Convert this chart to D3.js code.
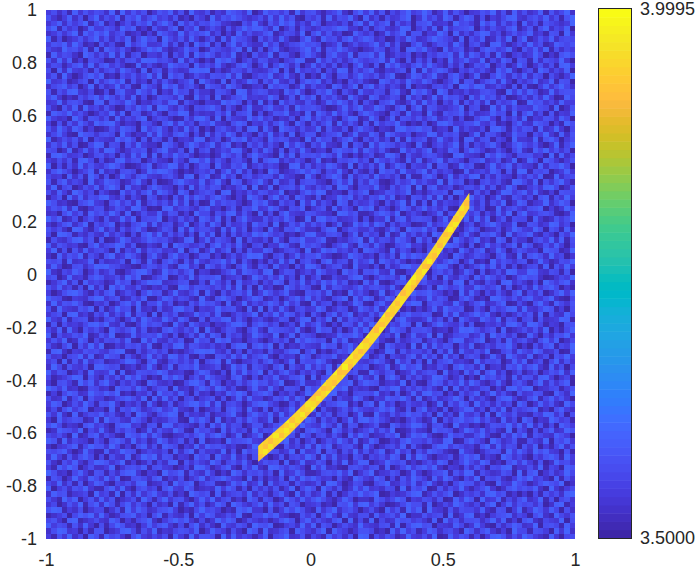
<!DOCTYPE html>
<html>
<head>
<meta charset="utf-8">
<script src="https://cdn.jsdelivr.net/npm/d3@7"></script>
<style>
html,body{margin:0;padding:0;background:#fff}
svg{display:block}
text{font-family:"Liberation Sans",Arial,sans-serif;font-size:18px;fill:#262626}
</style>
</head>
<body>
<svg id="chart" width="699" height="572"></svg>
<script>
const xTicks = [-1, -0.5, 0, 0.5, 1];
const xLabels = ["-1", "-0.5", "0", "0.5", "1"];
const yTicks = [-1, -0.8, -0.6, -0.4, -0.2, 0, 0.2, 0.4, 0.6, 0.8, 1];
const yLabels = ["-1", "-0.8", "-0.6", "-0.4", "-0.2", "0", "0.2", "0.4", "0.6", "0.8", "1"];
const colorbarTicks = [3.5, 3.9995];
const colorbarLabels = ["3.5000", "3.9995"];

const parula = [[.2422,.1504,.6603],[.2504,.165,.7076],[.2578,.1818,.7511],[.2647,.1978,.7952],[.2706,.2147,.8364],[.2751,.2342,.871],[.2783,.2559,.8991],[.2803,.2782,.9221],[.2813,.3006,.9414],[.281,.3228,.9579],[.2795,.3447,.9717],[.276,.3667,.9829],[.2699,.3892,.9906],[.2602,.4123,.9952],[.244,.4358,.9988],[.2206,.4603,.9973],[.1963,.4847,.9892],[.1834,.5074,.9798],[.1786,.5289,.9682],[.1764,.5499,.952],[.1687,.5703,.9359],[.154,.5902,.9218],[.146,.6091,.9079],[.138,.6276,.8973],[.1248,.6459,.8883],[.1113,.6635,.8763],[.0952,.6798,.8598],[.0689,.6948,.8394],[.0297,.7082,.8163],[.0036,.7203,.7917],[.0067,.7312,.766],[.0433,.7411,.7394],[.0964,.75,.712],[.1408,.7584,.6842],[.1717,.767,.6554],[.1938,.7758,.6251],[.2161,.7843,.5923],[.247,.7918,.5567],[.2906,.7973,.5188],[.3406,.8008,.4789],[.3909,.8029,.4354],[.4456,.8024,.3909],[.5044,.7993,.348],[.5616,.7942,.3045],[.6174,.7876,.2612],[.672,.7793,.2227],[.7242,.7698,.191],[.7738,.7598,.1646],[.8203,.7498,.1535],[.8634,.7406,.1596],[.9035,.733,.1774],[.9393,.7288,.21],[.9728,.7298,.2394],[.9956,.7434,.2371],[.997,.7659,.2199],[.9952,.7893,.2028],[.9892,.8136,.1885],[.9786,.8386,.1766],[.9676,.8639,.1643],[.961,.889,.1537],[.9597,.9135,.1423],[.9628,.9373,.1265],[.9691,.9606,.1064],[.9769,.9839,.0805]];

// Band edges (data units)
const bandX = [-0.198, -0.04, 0.149, 0.263, 0.425, 0.505, 0.6];
const bandUpper = [-0.648, -0.505, -0.304, -0.167, 0.048, 0.164, 0.308];
const bandLower = [-0.708, -0.565, -0.364, -0.227, -0.012, 0.104, 0.25];

// Per-column levels inside the band (estimated), first column index 40
const bandFirstColumn = 40;
const bandLevels = ["27451","63185","40726","85263","17404","62938","35172","74605","28361","51847","93026","46172","70538","32864","18495","67203","45916","83027","26754","51480","79263","34618","06572","82941","47135","63280","15794","72406","38652","94127","50763","27418","63905","41286","78530","26147","59373","83062","14726","60348","37251"];

// Background levels 0-9, hand-estimated cell by cell (texture only)
const noiseRows = [
"4625183746 5281937460 3758261943 6142875390 2856471936 7314582069 4827153694 5961382740 3475926183 6248173592",
"7314826059 2648175936 8452713064 1937586424 6283947105 4718265930 8251634790 3846297158 7160425893 2574836179",
"3582746915 8140362759 2695184736 5873210649 3174968252 8603425179 2946817350 6782341956 4195827360 8361754249",
"6917350284 4752968130 7326805491 3641725968 8529036174 2465798331 6157324980 4728193567 8052643791 3716925480",
"2473691858 6935712404 1864293757 9250418363 4781365290 6937240185 3502846917 7143960825 2698351474 5824176093",
"8150247369 3726481595 6095372841 4718296530 7362841059 3185627946 8724015396 2369754180 6481273905 9137482565",
"4768395120 7251094683 3482716095 8160593742 2947135686 7502481363 4693827105 8314762950 5720894136 3946128757",
"5329674818 1864730259 7931248560 2754368191 6058213479 4817596320 2375146089 6942083571 3168745920 7483916254",
"1846520973 6392815704 4270638195 8625491307 3491762058 5206843917 7839125460 3154768292 8627193045 2495031786",
"7293814065 4015267398 8564192730 3197850462 7623045981 1947362585 4568293071 6270419358 4391528607 6182754930",
"3651478292 7846301925 2139756084 6483127950 4815962703 8362714059 3170958426 8495316270 2758046139 5037261894",
"6082943517 2573964180 5716423898 9041265373 2368071945 4705298163 6821435709 1936872054 7463185920 4619725380",
"4719302685 8120647359 3908571264 2765938104 6592483170 3184067259 5472691038 7359216840 3810596274 8275063149",
"9346125708 3685917240 6273145809 5318062497 1749326058 7925130646 2108746395 4862035917 6147829305 3592481760",
"2578460391 6249371085 4196825730 8652974013 4085761392 6341872590 7936254180 3215647098 5982364170 7104836952",
"7164893250 1507832964 8042956173 3176409825 7623185940 2759406318 4365178209 6840971325 2367510948 4851293676",
"5830216479 4963728150 2765381094 6081257934 3496027185 8064731952 1872465093 5139286740 8495726013 6273940185",
"3492675108 8175496032 5638917420 4329786051 9150846327 4138596270 6305792148 2946053817 3728164590 1967352844",
"6207381945 2730164859 1984273065 7851630492 2684371956 7520148369 3497216805 8176324590 5601938274 4386519027",
"1875946302 5492807613 7306598142 3274915680 5037692418 1863947205 8642075193 4093175682 7234856091 6925071438",
"8423095176 3618254790 4652017389 6180743295 8451326079 3746205981 2950381764 7368246150 1589407362 9143762850",
"4061738529 7894132065 2079384516 5932168704 3726940851 6258193740 7184659302 1502897346 6943712058 3287504196",
"7395286140 1263875094 6841529370 3057426189 1840975263 4917326058 5403218967 8671340925 3250896174 7618249305",
"2584109763 6750941328 3942786051 8274961530 6392518047 7035681492 2861974350 3498265710 4917630285 5064931827",
"9136472805 4329685071 7516034298 1460387925 4185762309 2856147930 6372508194 5713942608 8267154093 3291785046",
"3748260159 8165073942 2087415963 5926813074 7263094851 6493218075 1948763520 8204635917 1536840279 6472039158",
"6502914837 2984136570 4793260815 7135498206 2851706394 1340786592 8537201946 3691428705 9741263058 2185947360",
"1897345026 7350628491 8164957302 3028647159 5420938176 7586392041 4612985073 2576310894 3208597416 6734091825",
"4263718950 5128946703 6320741895 9274156308 1789253640 3912065784 6095473182 8146927530 5682471390 2950863147",
"8051629374 3697401258 1459826037 6083275914 6354018927 2548731906 3729148605 4380761295 7104935826 4318276950",
"2796403581 8241675039 7986302145 4715938260 3097124685 8615493072 1508672943 6927354018 2453860719 9165702483",
"5340827196 1603952784 3257418906 8129460573 5762843109 4036971825 7294536081 1785039264 8916274305 3748019256",
"7168354092 4875126930 6012795438 2593087146 9418236057 7320584916 3861027459 4632918570 3057462198 5280637941",
"3915702648 2796083415 8643051927 4761325809 1280567394 2647198305 5492173680 9078245136 6482713950 1463895027",
"6284197350 5310847269 2974186035 7508914263 7634902158 5981320746 8023764591 3146570982 1725039846 8392140765",
"1470938265 8942615307 5130729486 3685204197 4059371862 1703496825 2659481307 6382917054 9460382175 2507816394",
"8623105794 3068472915 7462938150 1947563028 6821745093 9264087153 4730625918 1708254369 5271649038 7134925860",
"4759281036 6137529840 1089356427 8230471659 3497216580 3571826409 7915304862 5946371082 8360192574 2678041395",
"2306947185 7495180263 3827614095 5164892730 8150694327 6432098571 1268749035 3024816597 4715283906 9346751028",
"9581260473 1723948056 6904273518 7381605942 2736485019 1895723460 5043917826 7650492138 2938047165 5083127469",
"3147825906 4680315792 8256149037 2950734618 5619027483 7460381295 8397162540 1283576904 6147952380 1762498350",
"7462098315 9251736840 1375082946 6418293705 4083176952 2158904763 3621485097 6947038215 8502361497 4396075182",
"5098714263 2836405179 4927361508 3806172549 7964512038 9326750481 7450812936 2519763048 3176840925 6821530749",
"1632589470 7014962358 7563128904 8275409163 2518307694 4681032579 1936528740 8370641952 5924187063 3057492816",
"8275341069 3569827014 2180975346 1694738205 6043972185 7520469318 6284015793 4156298730 7039462581 9612738405",
"4916072835 6408153927 5734290681 4925806173 3871256409 1397845260 8753192640 3068724195 2681395047 5340876129",
"2083759164 1792486305 8316945027 7140362598 9205714836 6842013975 2406371958 7591430862 4753068219 1786294503",
"6571923480 5234709618 3068517294 2569481730 4162938057 3079256184 5918647302 1825369704 8120947536 7039412658",
"3840167259 8965321047 6472189350 8637205941 7518340629 8514672093 3150724896 6427983051 3694827150 2561807394",
"9215486037 2471036895 1295736804 3014692875 2890476135 2963408571 7683291045 9205746138 5071362984 4983265170",
"5702934168 7346295801 4680153927 6781345029 6374925081 4701532689 2047563918 3816094275 1849635027 8672013549",
"1369270845 4128570369 8923467015 1952708346 1538706492 6385947120 8391026745 5743261890 7216408935 3150964782",
"7483516092 6095843721 3251098476 5463829170 8240196375 1092764358 4675382190 1260974583 3964581702 6294785031",
"4026897315 2781364059 6714932580 8306257491 4963582107 5738120946 3029147568 6785413092 8405273169 1537026948",
"8651043279 9357126480 0487365219 2179640358 7125036849 3621579084 9714860325 2394750168 5120986473 7843692105",
"2937685104 3602784915 5936021748 6740813925 3586294710 8256041397 1058326479 8057632941 4792368015 2069418537",
"6194327580 7149560823 1723895604 3495672081 9072841563 4971365028 6482579130 3148296570 1630745892 9325871406",
"3570892416 4826391750 8064712395 7281036459 1649387250 7305826914 2739041685 5760183924 6958204137 4718063295",
"9428156703 1573048296 4395286107 1658927304 5213760489 1649082753 7503816942 2493617085 3286491750 5607234981",
"1706342589 6932710485 7620941853 4032589716 8746025193 5830417629 3961254870 8026954371 7014352896 2985143067",
"5281930746 3085469271 2178536490 9314762058 3187654920 2967150384 8240397516 6751230498 9635708124 6372904158",
"8063475912 7490128356 5941603728 2860745139 6429038175 4012386795 1674529038 3490812567 2481957360 1840527693",
"3749128605 2657381094 8326470195 6197823045 2036471958 7560948123 5983107246 7146305982 4790261835 7316948025",
"6215807394 9014265738 1053892764 3524068917 8590713264 3296715840 2750863419 1928476053 8125376940 3062781549",
"1892043756 4378910625 7460213589 8942715063 4173268905 8031475926 6402981735 5360729184 3649015728 5497236018",
"7340569281 2865073149 3629847105 1076384925 7920534186 1465823097 9137054268 2847193605 7502841963 2813607594",
"4608172935 6123598407 9215746380 5781920346 2683149075 5972016384 3586209471 6091578342 1936570284 8146059273",
"2951743608 8756024139 4038167592 3460295817 5316807429 3748192065 7024813956 8132640795 6280341759 4793182605",
"8376025194 3490812765 6972341058 7215083946 9072684153 6209384571 1953670248 3576092418 4817925036 1360475928",
"5124698073 1637295840 2185960473 9643178205 1548236790 8157246039 4280795163 6249851370 3095746182 7628940351",
"3067419582 7941536208 7324015896 1850427369 6735901482 2493067815 8761342905 1058726493 9621483057 4159273680",
"9748230165 2308674951 4670923158 6397251048 3294176508 5630879142 3107589264 7463190825 2367041895 8902356147",
"1405872396 5869120437 1956384072 3042869715 7860425139 7318924056 6592417038 2895604173 5814936207 3476108529",
"6239158074 4125786390 8293705614 5716038294 4127593860 1486053297 2043876951 8137245960 7352068941 2691584730",
"4870263951 7693042518 3027146895 9281564037 8953016274 3725689140 7819350264 3502917486 1946273508 6038472195",
"2516947803 3081759624 6845932170 2460785193 1706248395 9062147385 4358692170 6924170358 8250739164 5791306842",
"7392081465 8462150973 1579806342 7134692058 5482937061 2847156039 1094273586 7360825194 3618095472 2154983706",
"3084576129 1956328740 4236710958 5091427386 2390675148 6173504928 9685312047 4129063785 6947318250 8603297451",
"6951320784 5207893416 7098354216 1849365027 7136820495 4395281760 2471086359 8516720934 1203765948 3927150864",
"1287649053 9316475028 2743961085 6308274519 4658129307 8640972513 5837490126 3208675149 7483521906 4061582397",
"5463091278 2641087593 8510236479 4796138025 9023476185 1562730849 6123759048 7941038562 2694107385 9175328640",
"8719254306 4078629351 3962471508 1230956784 3185792604 7036495281 3860142795 5473289016 8530962471 1642907583",
"2034681597 7395140682 6187504293 8675241039 6941073528 2958146730 9402563817 2016894753 4179283650 7380415926",
"6578302941 1824976035 4350827916 3429160857 1576249083 4807516392 7258139460 6387521094 3025761948 5296843071",
"3941726850 5063281497 9276143085 7084392516 8302715649 6193824075 1546387092 9720346158 6814209735 2053786194",
"7206483159 8735914026 1528907364 2961574830 4756081392 3750629148 8024965713 1463870259 5397120684 8417029563",
"4185970362 2490367581 6743025198 5136820749 2198647530 9482310675 3671802594 7859204316 2740658913 3629154087",
"9623058417 6152789304 3095681742 8403197265 7360924851 1267584903 6913475028 3025681749 8164237509 1780362495",
"1750394286 3948016752 7814260359 2579643081 5142708396 8534062197 4286051739 6418397205 3906572148 6945208173",
"5392617048 7205463891 2361957804 6710385924 9083561742 3719840265 1057923648 2693140587 7251084396 4136875902",
"8046275931 1683920574 5079438612 3294861507 3627149058 6095271384 8342650917 5801726493 1469302785 7582093146",
"2867134509 4519072836 8426130975 7081456392 6415830927 2481603759 5790142368 9137468025 4628957130 3051746289",
"6319580472 8370246195 1593672048 4925713086 1750296384 7963148502 2186359704 3652701849 7093481526 8249160573",
"3502749168 2961583740 7240815936 1386097425 8294617503 4512076938 9473012586 6180253974 2516904837 5637028914",
"7981426035 5037194862 3678402159 5640218793 3071485962 1836925740 3620847195 8094317265 5382176049 1497385062",
"1246058793 9412678350 6915327084 8723649105 5968320174 7059418326 6184573902 2745609138 9130467825 4068219537",
"5730891246 3286041579 2047968315 1395870264 2413796058 3642780915 1905238674 5318094726 6725938140 7821543906",
"8465172930 6159723048 4783150692 6208437519 7680145293 8175036429 4326719058 9670432851 3941062587 2390675184",
"2698340517 7024895163 9132576480 3854162097 1923570864 2690854137 7512083946 1487256309 7268314095 5176408392",
"4173925086 1857306942 5360841927 7609283541 4805692371 5318462709 8063751294 3629018475 1504897263 9742183056"
].map(s => s.replace(/ /g, ""));

const plot = {left: 46, right: 575, top: 10, bottom: 539};
const bar = {left: 599, right: 631, top: 9, bottom: 538};

const svg = d3.select("#chart");
const x = d3.scaleLinear().domain([-1, 1]).range([plot.left, plot.right]);
const y = d3.scaleLinear().domain([-1, 1]).range([plot.bottom, plot.top]);
const col = d3.scaleBand().domain(d3.range(100)).range([plot.left, plot.right]);
const row = d3.scaleBand().domain(d3.range(100)).range([plot.top, plot.bottom]);

const paletteColors = parula.map(c => d3.rgb(c[0] * 255, c[1] * 255, c[2] * 255).formatHex());
const color = d3.scaleQuantize().domain([3.5, 3.9995]).range(paletteColors);
const noiseValue = d => 3.503 + 0.0105 * d;
const bandValue = d => 3.915 + 0.0075 * d;

const cells = [];
noiseRows.forEach((s, r) => { for (let c = 0; c < 100; c++) cells.push({c, r, v: noiseValue(+(s[c] ?? 5))}); });

svg.append("rect").attr("x", plot.left).attr("y", plot.top)
  .attr("width", plot.right - plot.left).attr("height", plot.bottom - plot.top)
  .attr("fill", color(noiseValue(5)));

const cellRect = sel => sel.join("rect")
  .attr("x", d => col(d.c)).attr("y", d => row(d.r))
  .attr("width", col.bandwidth() + 0.3).attr("height", row.bandwidth() + 0.3)
  .attr("fill", d => color(d.v)).attr("shape-rendering", "crispEdges");

svg.append("g").selectAll("rect").data(cells).call(cellRect);

// Band: clipped to its outline, filled with its own cells
const bandPoints = bandX.map((v, i) => ({x: v, u: bandUpper[i], l: bandLower[i]}));
const area = d3.area().x(d => x(d.x)).y0(d => y(d.l)).y1(d => y(d.u)).curve(d3.curveNatural);
svg.append("clipPath").attr("id", "bandClip").append("path").datum(bandPoints).attr("d", area);
const bandCells = [];
bandLevels.forEach((s, i) => {
  for (let r = 0; r < 100; r++) bandCells.push({c: bandFirstColumn + i, r, v: bandValue(+s[r % s.length])});
});
svg.append("g").attr("clip-path", "url(#bandClip)").selectAll("rect").data(bandCells).call(cellRect);

// Axes
const xAxis = d3.axisBottom(x).tickValues(xTicks).tickSize(0).tickPadding(14).tickFormat((d, i) => xLabels[i]);
const yAxis = d3.axisLeft(y).tickValues(yTicks).tickSize(0).tickPadding(9).tickFormat((d, i) => yLabels[i]);
const gx = svg.append("g").attr("transform", `translate(0,${plot.bottom})`).call(xAxis);
const gy = svg.append("g").attr("transform", `translate(${plot.left},0)`).call(yAxis);

// Colorbar
const cb = d3.scaleLinear().domain([3.5, 3.9995]).range([bar.bottom, bar.top]);
const stops = d3.scaleBand().domain(d3.range(paletteColors.length)).range([bar.bottom, bar.top]);
svg.append("g").selectAll("rect").data(paletteColors).join("rect")
  .attr("x", bar.left).attr("width", bar.right - bar.left)
  .attr("y", (d, i) => stops(i)).attr("height", stops.bandwidth() + 0.5)
  .attr("fill", d => d);
svg.append("rect").attr("x", bar.left - 0.5).attr("y", bar.top - 0.5)
  .attr("width", bar.right - bar.left + 1).attr("height", bar.bottom - bar.top + 1)
  .attr("fill", "none").attr("stroke", "#262626").attr("stroke-width", 1);
const cAxis = d3.axisRight(cb).tickValues(colorbarTicks).tickSize(0).tickPadding(9)
  .tickFormat((d, i) => colorbarLabels[i]);
const gc = svg.append("g").attr("transform", `translate(${bar.right},0)`).call(cAxis);

[gx, gy, gc].forEach(g => {
  g.select(".domain").remove();
  g.attr("font-family", null).attr("font-size", null);
  g.selectAll("text").attr("fill", "#262626");
});
</script>
</body>
</html>
